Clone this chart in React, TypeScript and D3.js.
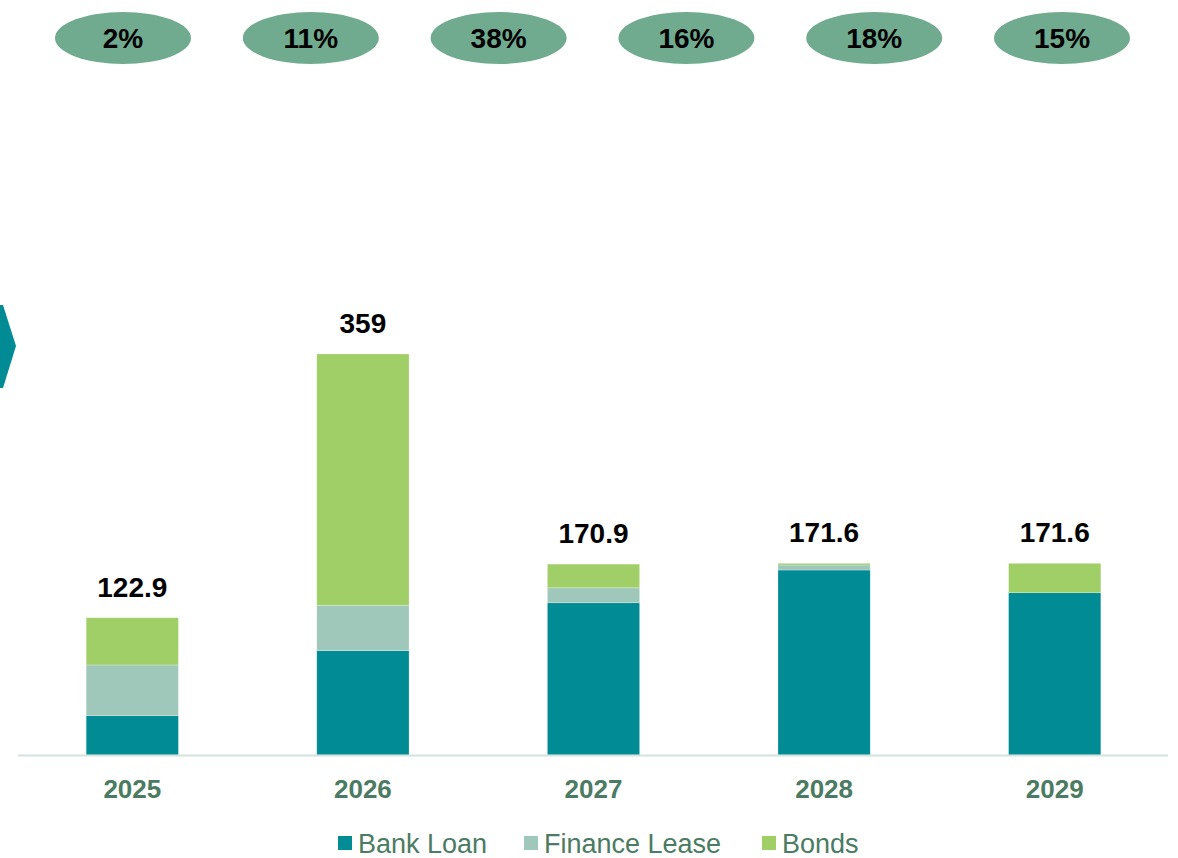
import React from "react";
import * as d3 from "d3";

const years = ["2025", "2026", "2027", "2028", "2029"];
const bankLoan = [35.2, 93.4, 136.3, 165.6, 145.3];
const financeLease = [45.4, 40.6, 13.4, 4.5, 0];
const bonds = [42.3, 225.0, 21.2, 1.5, 26.3];
const totals = ["122.9", "359", "170.9", "171.6", "171.6"];
const shares = ["2%", "11%", "38%", "16%", "18%", "15%"];
const seriesNames = ["Bank Loan", "Finance Lease", "Bonds"];
const seriesColors = ["#008B95", "#9FC8BA", "#A1CF67"];

const W = 1178;
const H = 858;

export default function App() {
  const x = d3.scaleBand<string>().domain(years).range([17, 1170]).paddingInner(0.6).paddingOuter(0.3);
  const y = d3.scaleLinear().domain([0, 359]).range([755, 354]);
  const rows = years.map((yr, i) => ({ year: yr, "Bank Loan": bankLoan[i], "Finance Lease": financeLease[i], Bonds: bonds[i] }));
  const stack = d3.stack<any>().keys(seriesNames)(rows);
  const px = d3.scalePoint<string>().domain(shares).range([123, 1062]);
  const textColor = "#4B7B62";
  const legendX = [338, 524, 762];

  return (
    <svg width={W} height={H} style={{ position: "absolute", left: 0, top: 0, fontFamily: "'Liberation Sans', Arial, sans-serif" }}>
      <rect width={W} height={H} fill="#fff" />
      <polygon points="0,305 3,305 16,346 3,388 0,388" fill="#008B95" />
      {shares.map((s) => (
        <g key={s} transform={`translate(${px(s)},38)`}>
          <ellipse rx={68} ry={26} fill="#70AB8F" />
          <text textAnchor="middle" dy="0.36em" fontSize={28} fontWeight="bold" fill="#000">{s}</text>
        </g>
      ))}
      {stack.map((layer, si) => (
        <g key={seriesNames[si]} fill={seriesColors[si]}>
          {layer.map((d, i) => (
            d[1] - d[0] > 0 ? (
              <rect key={i} x={x(years[i])} width={x.bandwidth()} y={y(d[1])} height={y(d[0]) - y(d[1])} stroke="#fff" strokeOpacity={0.35} strokeWidth={0.7} />
            ) : null
          ))}
        </g>
      ))}
      <line x1={18} x2={1168} y1={755.5} y2={755.5} stroke="#D3E3DE" strokeWidth={2} />
      {years.map((yr, i) => (
        <text key={yr} x={(x(yr) as number) + x.bandwidth() / 2} y={y(bankLoan[i] + financeLease[i] + bonds[i]) - 21} textAnchor="middle" fontSize={28} fontWeight="bold" fill="#000">{totals[i]}</text>
      ))}
      {years.map((yr) => (
        <text key={yr} x={(x(yr) as number) + x.bandwidth() / 2} y={798} textAnchor="middle" fontSize={26} fontWeight="bold" fill={textColor}>{yr}</text>
      ))}
      {seriesNames.map((n, i) => (
        <g key={n} transform={`translate(${legendX[i]},0)`}>
          <rect x={0} y={836} width={14} height={14} fill={seriesColors[i]} />
          <text x={20} y={853} fontSize={27} fill={textColor}>{n}</text>
        </g>
      ))}
    </svg>
  );
}
